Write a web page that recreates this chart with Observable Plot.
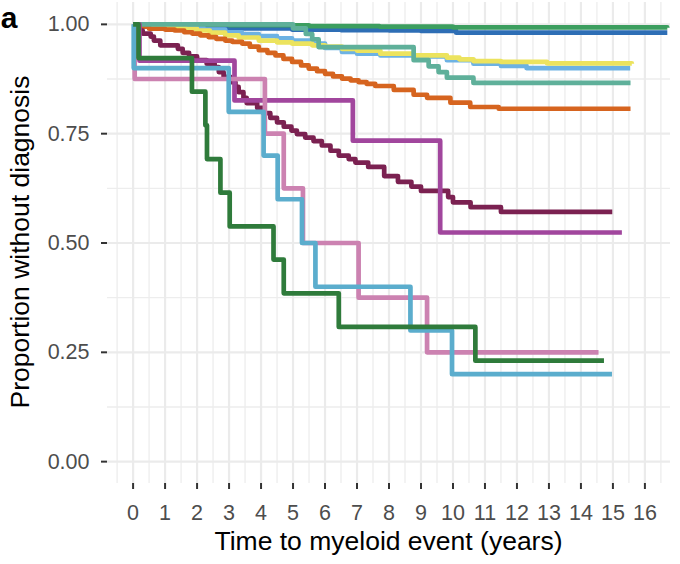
<!DOCTYPE html>
<html>
<head>
<meta charset="utf-8">
<script src="https://cdn.jsdelivr.net/npm/d3@7"></script>
<script src="https://cdn.jsdelivr.net/npm/@observablehq/plot@0.6"></script>
<style>
  body { margin: 0; background: #ffffff; }
  #chart { width: 680px; height: 564px; }
</style>
</head>
<body>
<div id="chart"></div>
<script>
// ---- axis ticks / grid ----
const xMajorTicks = [0, 1, 2, 3, 4, 5, 6, 7, 8, 9, 10, 11, 12, 13, 14, 15, 16];
const xMinorGrid = [-0.5, 0.5, 1.5, 2.5, 3.5, 4.5, 5.5, 6.5, 7.5, 8.5, 9.5, 10.5, 11.5, 12.5, 13.5, 14.5, 15.5, 16.5];
const yMajorTicks = [0, 0.25, 0.5, 0.75, 1];
const yMinorGrid = [0.125, 0.375, 0.625, 0.875];

// ---- series (drawing order) ----
const seriesNames = ["blue", "green", "lightblue", "yellow", "orange", "teal", "maroon", "purple", "pink", "sky", "darkgreen"];
const seriesColors = ["#2e6eb5", "#3c9e5f", "#6db2e3", "#ece35e", "#d6641f", "#5fb09a", "#7b2151", "#a1469d", "#cc82b1", "#5badcd", "#2f7b3b"];

const tBlue = [0, 0.8, 1.84, 3.0, 4.97, 6.5, 8.0, 9.0, 10.1, 16.7];
const sBlue = [1, 0.997, 0.993, 0.991, 0.988, 0.987, 0.986, 0.985, 0.981, 0.981];

const tGreen = [0, 3.0, 5.5, 7.7, 10.0, 16.7];
const sGreen = [1, 0.998, 0.996, 0.995, 0.993, 0.992];

const tLightBlue = [0, 0.5, 1.0, 1.63, 2.2, 2.88, 3.4, 3.93, 4.5, 4.97, 5.6, 6.0, 6.53, 7.0, 7.73, 8.77, 9.81, 10.64, 11.5, 12.3, 15.54];
const sLightBlue = [1, 0.998, 0.996, 0.993, 0.988, 0.982, 0.978, 0.973, 0.968, 0.963, 0.956, 0.946, 0.937, 0.933, 0.929, 0.927, 0.918, 0.910, 0.905, 0.900, 0.900];

const tYellow = [0, 0.3, 0.8, 1.2, 1.63, 2.0, 2.4, 2.88, 3.3, 3.93, 4.5, 4.97, 5.6, 6.0, 6.53, 7.0, 7.73, 8.77, 9.81, 10.2, 10.64, 11.5, 12.94, 15.59];
const sYellow = [1, 0.998, 0.995, 0.993, 0.990, 0.986, 0.981, 0.975, 0.970, 0.963, 0.959, 0.956, 0.952, 0.949, 0.944, 0.940, 0.933, 0.929, 0.924, 0.920, 0.916, 0.914, 0.911, 0.910];

const tOrange = [0, 0.1, 0.5, 1.0, 1.3, 1.6, 1.85, 2.1, 2.36, 2.6, 2.88, 3.1, 3.41, 3.65, 3.93, 4.2, 4.45, 4.7, 4.97, 5.25, 5.49, 5.75, 6.0, 6.25, 6.53, 6.8, 7.05, 7.3, 7.57, 8.15, 8.77, 9.19, 9.92, 10.54, 11.43, 15.55];
const sOrange = [1, 0.995, 0.990, 0.988, 0.986, 0.982, 0.979, 0.975, 0.971, 0.967, 0.963, 0.960, 0.956, 0.949, 0.941, 0.935, 0.929, 0.921, 0.914, 0.906, 0.899, 0.893, 0.887, 0.881, 0.876, 0.872, 0.868, 0.864, 0.859, 0.850, 0.839, 0.832, 0.821, 0.811, 0.807, 0.807];

const tTeal = [0, 5.0, 5.4, 5.6, 5.8, 8.77, 9.24, 9.55, 9.81, 10.64, 15.55];
const sTeal = [1, 0.991, 0.978, 0.966, 0.948, 0.918, 0.904, 0.891, 0.878, 0.866, 0.866];

const tMaroon = [0, 0.05, 0.3, 0.55, 0.65, 0.85, 1.4, 1.55, 1.75, 2.0, 2.3, 2.55, 2.68, 2.83, 3.04, 3.2, 3.3, 3.45, 3.55, 3.88, 4.08, 4.29, 4.5, 4.71, 4.95, 5.12, 5.38, 5.64, 5.9, 6.17, 6.43, 6.74, 6.95, 7.35, 7.85, 8.28, 8.7, 9.0, 9.85, 10.0, 10.55, 11.5, 14.98];
const sMaroon = [1, 0.986, 0.979, 0.972, 0.963, 0.952, 0.944, 0.935, 0.927, 0.918, 0.910, 0.902, 0.891, 0.880, 0.868, 0.857, 0.845, 0.832, 0.820, 0.809, 0.797, 0.786, 0.776, 0.766, 0.757, 0.749, 0.741, 0.733, 0.723, 0.711, 0.700, 0.692, 0.684, 0.674, 0.653, 0.640, 0.629, 0.619, 0.605, 0.593, 0.582, 0.571, 0.571];

const tPurple = [0, 0.2, 3.17, 6.87, 9.6, 15.28];
const sPurple = [1, 0.917, 0.826, 0.734, 0.524, 0.524];

const tPink = [0, 0.05, 4.12, 4.71, 5.31, 7.05, 9.19, 14.55];
const sPink = [1, 0.875, 0.75, 0.625, 0.5, 0.375, 0.25, 0.25];

const tSky = [0, 0.02, 2.99, 4.08, 4.52, 5.28, 5.70, 8.67, 9.97, 14.97];
const sSky = [1, 0.9, 0.8, 0.7, 0.6, 0.5, 0.4, 0.3, 0.2, 0.2];

const tDarkGreen = [0, 0.17, 1.84, 2.26, 2.31, 2.73, 3.02, 4.39, 4.71, 6.43, 10.7, 14.72];
const sDarkGreen = [1, 0.923, 0.846, 0.769, 0.692, 0.615, 0.538, 0.462, 0.385, 0.308, 0.231, 0.231];

const seriesTimes = [tBlue, tGreen, tLightBlue, tYellow, tOrange, tTeal, tMaroon, tPurple, tPink, tSky, tDarkGreen];
const seriesSurv = [sBlue, sGreen, sLightBlue, sYellow, sOrange, sTeal, sMaroon, sPurple, sPink, sSky, sDarkGreen];

const rows = [];
seriesNames.forEach((name, i) => {
  seriesTimes[i].forEach((t, j) => rows.push({series: name, t, s: seriesSurv[i][j]}));
});

const W = 680, H = 564;
const font = "'Liberation Sans', Arial, Helvetica, sans-serif";

const svg = Plot.plot({
  width: W,
  height: H,
  marginLeft: 107,
  marginRight: 10,
  marginTop: 2,
  marginBottom: 81,
  style: {fontFamily: font, background: "#ffffff", overflow: "visible"},
  x: {domain: [-0.8, 16.8]},
  y: {domain: [-0.05, 1.05]},
  color: {domain: seriesNames, range: seriesColors},
  marks: [
    Plot.ruleX(xMinorGrid, {stroke: "#ededed", strokeWidth: 1.3}),
    Plot.ruleY(yMinorGrid, {stroke: "#ededed", strokeWidth: 1.3}),
    Plot.ruleX(xMajorTicks, {stroke: "#ebebeb", strokeWidth: 2.2}),
    Plot.ruleY(yMajorTicks, {stroke: "#ebebeb", strokeWidth: 2.2}),
    Plot.line(rows, {
      x: "t", y: "s", z: "series", stroke: "series",
      curve: "step-after", strokeWidth: 4.7,
      strokeLinejoin: "round", strokeLinecap: "butt"
    }),
    Plot.axisX({
      ticks: xMajorTicks, tickFormat: d => String(d), label: null,
      tickSize: 6, tickPadding: 15, stroke: "#333333", strokeWidth: 2,
      fill: "#4d4d4d", fontSize: 21.5
    }),
    Plot.axisY({
      ticks: yMajorTicks, tickFormat: d3.format(".2f"), label: null,
      tickSize: 6, tickPadding: 12, stroke: "#333333", strokeWidth: 2,
      fill: "#4d4d4d", fontSize: 21.5
    })
  ]
});

const sel = d3.select(svg);
sel.append("text")
  .attr("x", 388.5).attr("y", 550)
  .attr("text-anchor", "middle")
  .attr("font-family", font).attr("font-size", 26.5).attr("fill", "#000000")
  .text("Time to myeloid event (years)");
sel.append("text")
  .attr("transform", "translate(29,242) rotate(-90)")
  .attr("text-anchor", "middle")
  .attr("font-family", font).attr("font-size", 26.5).attr("fill", "#000000")
  .text("Proportion without diagnosis");
sel.append("text")
  .attr("x", 9).attr("y", 27.5)
  .attr("font-family", font).attr("font-size", 30).attr("font-weight", "bold").attr("fill", "#000000")
  .text("a");

document.getElementById("chart").appendChild(svg);
</script>
</body>
</html>
